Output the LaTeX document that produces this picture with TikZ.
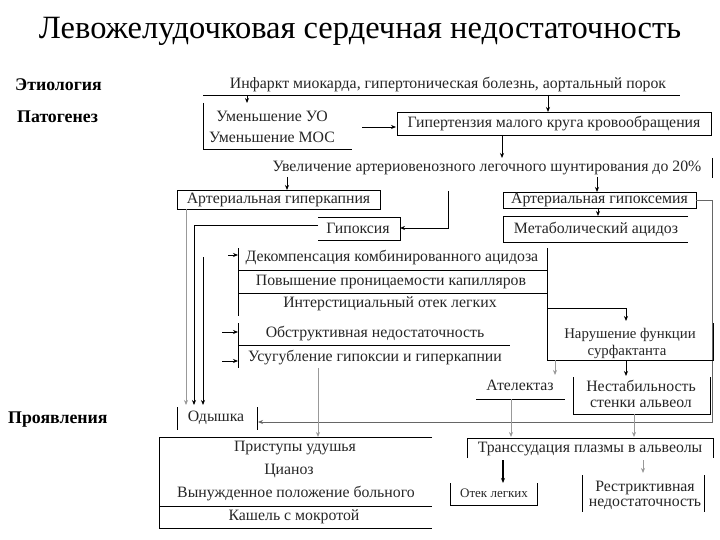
\documentclass[tikz,border=0pt]{standalone}
\usepackage{fontspec}
\setmainfont{Liberation Serif}
\usetikzlibrary{arrows.meta}
\begin{document}
\begin{tikzpicture}[x=1pt,y=-1pt,
  txt/.style={font=\fontsize{15.8}{17}\selectfont, inner sep=0pt, text=black!85},
  lbl/.style={font=\fontsize{17.8}{20}\selectfont\bfseries, anchor=west, inner sep=0pt},
  boxd/.style={draw, line width=0.8pt, inner sep=0pt},
  ln/.style={line width=0.8pt},
  arr/.style={-{Stealth[length=5pt,width=4pt]}, line width=0.8pt},
  garr/.style={arr, draw=black!40},
]
\useasboundingbox[fill=white] (0,0) rectangle (720,540);

\node[font=\fontsize{32.5}{36}\selectfont, inner sep=0pt] (title) at (360,31) {Левожелудочковая сердечная недостаточность};

\node[lbl] (etio) at (15,85) {Этиология};
\node[lbl] (pato) at (17,117) {Патогенез};
\node[lbl] (proj) at (8,420) {Проявления};

% etiology
\node[txt] (cause) at (448,85) {Инфаркт миокарда, гипертоническая болезнь, аортальный порок};
\draw[ln] (203,95) coordinate (cl) -- (680,95) coordinate (cr);
\draw[arr] (247,95) -- (247,103);
\draw[arr] (548,95) -- (548,112);

% UO / MOS
\node[txt] (uo) at (272,116) {Уменьшение УО};
\node[txt] (mos) at (272,137) {Уменьшение МОС};
\draw[ln] (203,103) -- (203,149) -- (352,149);

\node[txt, boxd, minimum width=314pt, minimum height=23pt] (hyp) at (554,123.5) {Гипертензия малого круга кровообращения};
\draw[arr] (362,127) -- (396,127);
\draw[arr] (502,135) -- (502,158);

\node[txt] (shunt) at (487,168) {Увеличение артериовенозного легочного шунтирования до 20\%};
\draw[ln] (712,158) -- (712,178);
\draw[arr] (287,177) -- (287,190);
\draw[arr] (597,177) -- (597,192);

\node[txt, boxd, minimum width=203pt, minimum height=19pt] (hcap) at (278.5,199.5) {Артериальная гиперкапния};
\node[txt, boxd, minimum width=193pt, minimum height=16pt] (hxem) at (599.5,200) {Артериальная гипоксемия};
\draw[arr] (598,208) -- (598,216);
\node[txt] (acid) at (596,229) {Метаболический ацидоз};
\draw[ln] (688,216) -- (503,216) -- (503,242) -- (688,242);

\draw[arr, draw=black!60] (hxem.east) -- (712,200) -- (712,422) -- (258,422);

% hypoxia
\node[txt] (hypox) at (358,228) {Гипоксия};
\draw[ln] (318,217) -- (400,217) -- (400,240) -- (318,240);
\draw[arr] (448,191) -- (448,228) -- (400,228);
\draw[arr] (318,225) -- (194,225) -- (194,405);
\draw[garr] (186,209) -- (186,405);
\draw[arr] (203,257) -- (203,405);

% decompensation group
\node[txt] (dec) at (392,258) {Декомпенсация комбинированного ацидоза};
\node[txt] (perm) at (391,282) {Повышение проницаемости капилляров};
\node[txt] (inter) at (390,304) {Интерстициальный отек легких};
\draw[ln] (238,248) -- (238,316);
\draw[ln] (238,270) -- (547,270);
\draw[ln] (238,293) -- (547,293);
\draw[ln] (547,248) -- (547,360) -- (713,360) -- (713,323);
\draw[arr] (547,308) -- (626,308) -- (626,321);
\node[txt, font=\fontsize{14.8}{16}\selectfont] (surf1) at (630,335) {Нарушение функции};
\node[txt, font=\fontsize{14.8}{16}\selectfont] (surf2) at (627,352) {сурфактанта};
\draw[arr] (228,255) -- (238,255);

% obstruction
\node[txt] (obstr) at (375,334) {Обструктивная недостаточность};
\node[txt] (worse) at (375,358) {Усугубление гипоксии и гиперкапнии};
\draw[ln] (238,323) -- (238,368);
\draw[ln] (238,345) -- (510,345);
\draw[arr] (222,332) -- (238,332);
\draw[arr] (222,361) -- (238,361);
\draw[garr] (318,368) -- (318,437);

% atelectasis / instability
\draw[garr] (555,360) -- (555,375);
\draw[arr] (626,360) -- (626,376);
\node[txt] (atel) at (520,385) {Ателектаз};
\draw[ln] (476,399) -- (565,399);
\node[txt] (inst1) at (641,386) {Нестабильность};
\node[txt] (inst2) at (641,404) {стенки альвеол};
\draw[ln] (573,377) -- (573,414) -- (710,414) -- (710,377);
\draw[garr] (511,399) -- (511,437);
\draw[garr] (634,414) -- (634,437);

% transudation
\node[txt] (trans) at (590,449) {Транссудация плазмы в альвеолы};
\draw[ln] (467,458) -- (467,438) -- (713,438) -- (713,458);
\draw[arr, line width=1.2pt] (503,460) -- (503,483);
\node[txt, font=\fontsize{13}{15}\selectfont] (edema) at (494,493) {Отек легких};
\draw[ln] (450,483) -- (450,505) -- (537,505) -- (537,483);
\draw[garr] (643,460) -- (643,473);
\node[txt] (restr1) at (645,488) {Рестриктивная};
\node[txt] (restr2) at (645,504) {недостаточность};
\draw[ln] (582,475) -- (582,512);
\draw[ln] (704,475) -- (704,512);

% dyspnea
\node[txt] (dysp) at (216,418) {Одышка};
\draw[ln] (177,407) -- (177,430);
\draw[ln] (257,407) -- (257,430);

% manifestations
\node[txt] (att) at (295,448) {Приступы удушья};
\node[txt] (cyan) at (289,471) {Цианоз};
\node[txt] (pos) at (296,494) {Вынужденное положение больного};
\node[txt] (cough) at (294,517) {Кашель с мокротой};
\draw[ln] (432,437) -- (159,437) -- (159,528) -- (432,528);
\draw[ln] (159,506) -- (432,506);
\end{tikzpicture}
\end{document}
